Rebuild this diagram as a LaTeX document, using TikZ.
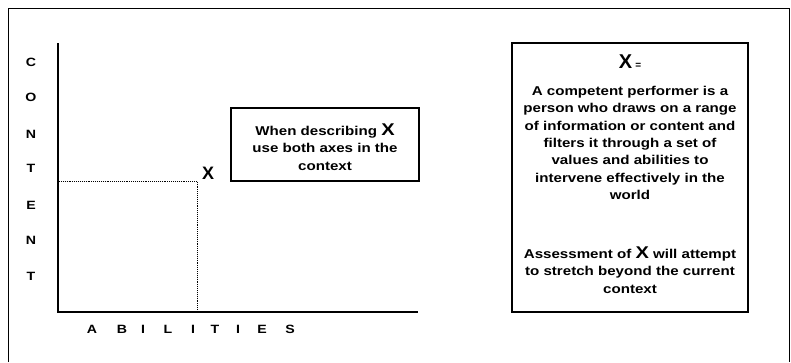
\documentclass[tikz,border=0pt]{standalone}
\usepackage{fontspec}
\setmainfont{Liberation Sans}
\newfontfamily\widefont[FakeStretch=1.18]{Liberation Sans}
\begin{document}
\begin{tikzpicture}[x=1pt,y=-1pt,
  txt/.style={font=\widefont\bfseries\fontsize{12.8}{17.3}\selectfont, align=center, inner sep=0pt},
  axislbl/.style={font=\widefont\bfseries\fontsize{12}{12}\selectfont, inner sep=0pt},
  axisline/.style={line width=2.2pt},
  guide/.style={densely dotted, line width=0.9pt},
  boxed/.style={draw, line width=1.1pt}]
\useasboundingbox (0,0) rectangle (791,362);
% outer frame
\draw[line width=1pt] (8,362) -- (8,8) -- (789,8) -- (789,362);
% axes
\coordinate (top) at (58,43);
\coordinate (orig) at (58,312);
\coordinate (xend) at (418,312);
\draw[axisline] (top) -- (orig) -- (xend);
% dotted guides
\coordinate (py) at (59,181);
\coordinate (pt) at (197,181);
\coordinate (px) at (197,311);
\draw[guide] (py) -- (pt) -- (px);
\node[font=\bfseries\fontsize{18}{18}\selectfont, inner sep=0pt] (X) at (208,173) {X};
% vertical label
\foreach \l/\y [count=\i] in {C/62,O/97,N/134,T/168,E/205,N/240,T/276}
  \node[axislbl] (c\i) at (31,\y) {\l};
% horizontal label
\foreach \l/\x [count=\i] in {A/92,B/122,I/143,L/168,I/193,T/215,I/238,E/262,S/290}
  \node[axislbl] (a\i) at (\x,329) {\l};
% small box
\node[boxed, minimum width=188pt, minimum height=73pt] (b1) at (325,144.5) {};
\node[txt] (t1) at (325,147) {When describing {\fontsize{17}{17}\selectfont X}\\use both axes in the\\context};
% big box
\node[boxed, minimum width=236pt, minimum height=269pt] (b2) at (630,177.5) {};
\node[font=\bfseries\fontsize{20}{20}\selectfont, inner sep=0pt] (xeq) at (630,62) {X\,{\fontsize{10}{10}\selectfont =}};
\node[txt] (t2) at (630,143) {A competent performer is a\\person who draws on a range\\of information or content and\\filters it through a set of\\values and abilities to\\intervene effectively in the\\world};
\node[txt] (t3) at (630,270) {Assessment of {\fontsize{17}{17}\selectfont X} will attempt\\to stretch beyond the current\\context};
\end{tikzpicture}
\end{document}
